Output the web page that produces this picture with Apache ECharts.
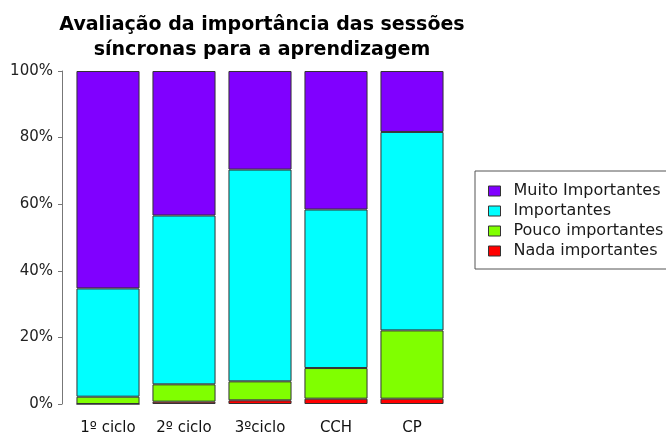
<!DOCTYPE html>
<html>
<head>
<meta charset="utf-8">
<script src="https://cdn.jsdelivr.net/npm/echarts@6/dist/echarts.min.js"></script>
<style>
  html, body { margin: 0; padding: 0; background: #fff; }
  #chart { width: 666px; height: 436px; }
</style>
</head>
<body>
<div id="chart"></div>
<script>
// Student groups
const categories = ['1º ciclo', '2º ciclo', '3ºciclo', 'CCH', 'CP'];

// Share of answers per rating (percent of each group)
const nadaImportantes = [0.0, 0.7, 1.1, 1.6, 1.6];
const poucoImportantes = [2.2, 5.2, 5.7, 9.2, 20.5];
const importantes = [32.5, 50.7, 63.6, 47.6, 59.6];
const muitoImportantes = [65.3, 43.4, 29.6, 41.6, 18.3];

// Y axis ticks
const yTicks = [0, 20, 40, 60, 80, 100];

const seriesDefs = [
  { name: 'Nada importantes', data: nadaImportantes, color: '#ff0000' },
  { name: 'Pouco importantes', data: poucoImportantes, color: '#80ff00' },
  { name: 'Importantes', data: importantes, color: '#00ffff' },
  { name: 'Muito Importantes', data: muitoImportantes, color: '#8000ff' }
];

const chart = echarts.init(document.getElementById('chart'), null, { renderer: 'canvas' });

const font = 'DejaVu Sans';

chart.setOption({
  animation: false,
  backgroundColor: '#ffffff',
  title: {
    text: 'Avaliação da importância das sessões\nsíncronas para a aprendizagem',
    left: 257,
    top: 8,
    textAlign: 'center',
    textStyle: {
      fontFamily: font,
      fontWeight: 'bold',
      fontSize: 19,
      lineHeight: 25,
      color: '#000'
    }
  },
  legend: {
    orient: 'vertical',
    left: 475,
    top: 171,
    padding: [12, 20, 10, 13],
    itemGap: 4,
    itemWidth: 12,
    itemHeight: 10,
    icon: 'rect',
    borderColor: '#555',
    borderWidth: 1,
    borderRadius: 0,
    data: ['Muito Importantes', 'Importantes', 'Pouco importantes', 'Nada importantes'],
    itemStyle: { borderColor: '#333', borderWidth: 1 },
    textStyle: {
      fontFamily: font,
      fontSize: 16,
      lineHeight: 16,
      color: '#1a1a1a',
      padding: [0, 0, 0, 8]
    }
  },
  grid: {
    left: 70,
    top: 71,
    width: 380,
    bottom: 31,
    containLabel: false
  },
  xAxis: {
    type: 'category',
    data: categories,
    axisLine: { show: false },
    axisTick: { show: false },
    axisLabel: {
      margin: 17,
      fontFamily: font,
      fontSize: 15,
      color: '#111'
    }
  },
  yAxis: {
    type: 'value',
    min: yTicks[0],
    max: yTicks[yTicks.length - 1],
    interval: 20,
    offset: 8,
    axisLine: { show: true, lineStyle: { color: '#777', width: 1 } },
    axisTick: { show: true, length: 4, lineStyle: { color: '#777' } },
    splitLine: { show: false },
    axisLabel: {
      margin: 9,
      fontFamily: font,
      fontSize: 15,
      color: '#222',
      formatter: v => v + '%'
    }
  },
  series: seriesDefs.map(s => ({
    name: s.name,
    type: 'bar',
    stack: 'total',
    barCategoryGap: '17%',
    data: s.data,
    itemStyle: { color: s.color, borderColor: '#333', borderWidth: 1 }
  }))
});
</script>
</body>
</html>
